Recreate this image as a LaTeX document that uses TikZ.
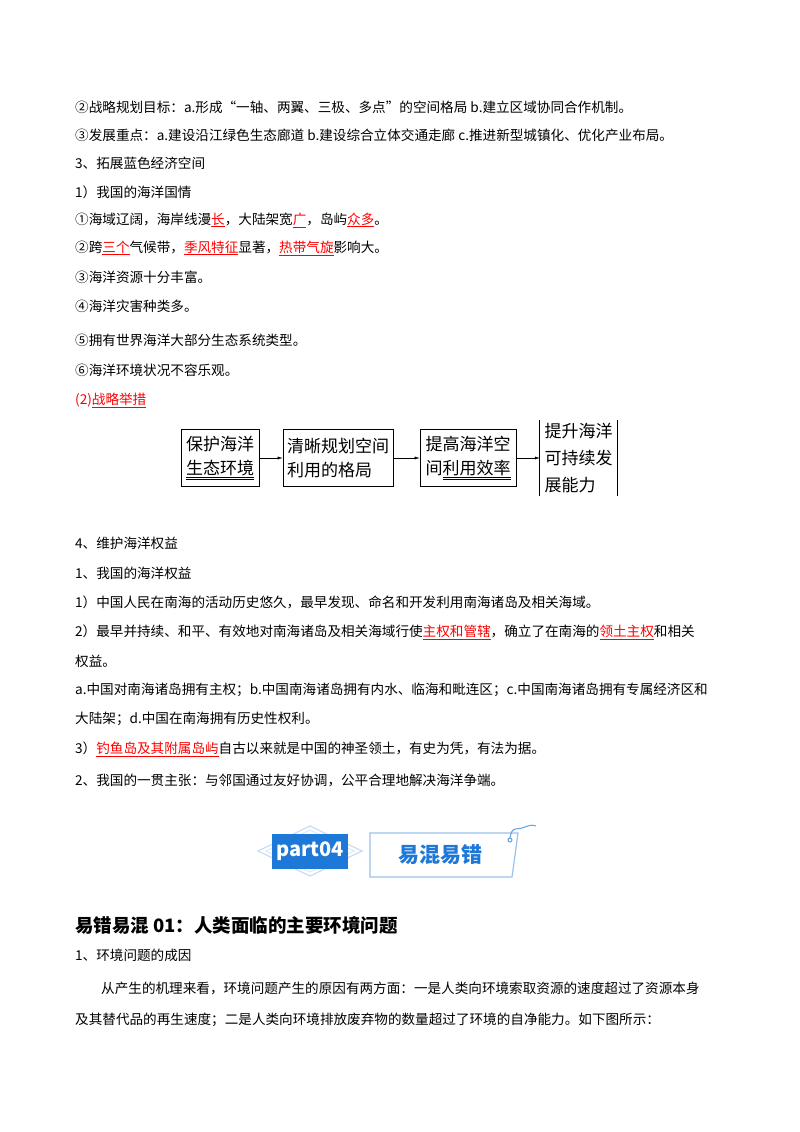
\documentclass[tikz,border=0pt]{standalone}
\usepackage{fontspec}
\setmainfont{Noto Sans CJK SC}
\usetikzlibrary{arrows.meta,shapes.geometric}
\definecolor{pblue}{RGB}{30,120,215}
\newcommand{\hl}[1]{\textcolor{red}{\underline{#1}}}
\newcommand{\uul}[1]{$\underline{\underline{\hbox{#1}}}$}
\begin{document}
\begin{tikzpicture}[x=1pt,y=-1pt,
  tl/.style={anchor=west,inner sep=0pt,font=\fontsize{13.6}{16}\selectfont},
  fbox/.style={draw,thick,inner sep=0pt,font=\fontsize{17}{24}\selectfont,align=left},
  arr/.style={-{Latex[length=5pt,width=3pt]}}]
\useasboundingbox (0,0) rectangle (800,1132);
\fill[white] (0,0) rectangle (800,1132);
\node[tl] (l1) at (75,107) {②战略规划目标：a.形成“一轴、两翼、三极、多点”的空间格局 b.建立区域协同合作机制。};
\node[tl] (l2) at (75,135) {③发展重点：a.建设沿江绿色生态廊道 b.建设综合立体交通走廊 c.推进新型城镇化、优化产业布局。};
\node[tl] (l3) at (75,163) {3、拓展蓝色经济空间};
\node[tl] (l4) at (75,192) {1）我国的海洋国情};
\node[tl] (l5) at (75,220) {①海域辽阔，海岸线漫\hl{长}，大陆架宽\hl{广}，岛屿\hl{众多}。};
\node[tl] (l6) at (75,248) {②跨\hl{三个}气候带，\hl{季风特征}显著，\hl{热带气旋}影响大。};
\node[tl] (l7) at (75,277) {③海洋资源十分丰富。};
\node[tl] (l8) at (75,306) {④海洋灾害种类多。};
\node[tl] (l9) at (75,340) {⑤拥有世界海洋大部分生态系统类型。};
\node[tl] (l10) at (75,370) {⑥海洋环境状况不容乐观。};
\node[tl] (l11) at (75,400) {\textcolor{red}{(2)}\hl{战略举措}};
% flowchart
\node[fbox,minimum width=78,minimum height=57] (b1) at (220,458) {保护海洋\\\uul{生态环境}};
\node[fbox,minimum width=110,minimum height=57] (b2) at (338,458) {清晰规划空间\\利用的格局};
\node[fbox,minimum width=96,minimum height=57] (b3) at (468,458) {提高海洋空\\间\uul{利用效率}};
\node[inner sep=0pt,font=\fontsize{17}{27}\selectfont,align=left,minimum width=77,minimum height=75] (b4) at (578.5,458) {提升海洋\\可持续发\\展能力};
\draw[thick] (b4.north west) -- (b4.south west);
\draw[thick] (b4.north east) -- (b4.south east);
\draw[arr] (b1) -- (b2);
\draw[arr] (b2) -- (b3);
\draw[arr] (b3) -- (b4);
\node[tl] (m1) at (75,543) {4、维护海洋权益};
\node[tl] (m2) at (75,573) {1、我国的海洋权益};
\node[tl] (m3) at (75,602) {1）中国人民在南海的活动历史悠久，最早发现、命名和开发利用南海诸岛及相关海域。};
\node[tl] (m4) at (75,632) {2）最早并持续、和平、有效地对南海诸岛及相关海域行使\hl{主权和管辖}，确立了在南海的\hl{领土主权}和相关};
\node[tl] (m5) at (75,661) {权益。};
\node[tl] (m6) at (75,690) {a.中国对南海诸岛拥有主权；b.中国南海诸岛拥有内水、临海和毗连区；c.中国南海诸岛拥有专属经济区和};
\node[tl] (m7) at (75,719) {大陆架；d.中国在南海拥有历史性权利。};
\node[tl] (m8) at (75,749) {3）\hl{钓鱼岛及其附属岛屿}自古以来就是中国的神圣领土，有史为凭，有法为据。};
\node[tl] (m9) at (75,780) {2、我国的一贯主张：与邻国通过友好协调，公平合理地解决海洋争端。};
% banner
\draw[pblue!25,line width=1.2pt] (258,851) -- (310,826) -- (362,851) -- (310,876) -- cycle;
\draw[pblue!15,line width=1pt] (266,851) -- (310,830) -- (354,851) -- (310,872) -- cycle;
\node[fill=pblue,text=white,minimum width=76,minimum height=35,inner sep=0pt,font=\fontsize{20}{20}\selectfont\bfseries] (p4) at (310,851) {part04};
\draw[pblue!45,line width=1.2pt] (370,833) -- (518,833) -- (512,877) -- (370,877) -- cycle;
\node[text=pblue,font=\fontsize{21}{21}\selectfont\bfseries] (yh) at (440,855) {易混易错};
\draw[pblue!70,line width=1pt] (510,840) circle (2);
\draw[pblue!70,line width=1pt] (510,838) .. controls (512,826) and (515,830) .. (522,828) .. controls (528,826) and (532,824) .. (536,826);
\node[tl,font=\fontsize{18.5}{22}\selectfont\bfseries] (h1) at (75,925) {易错易混 01：人类面临的主要环境问题};
\node[tl] (n1) at (75,955) {1、环境问题的成因};
\node[tl] (n2) at (101,988) {从产生的机理来看，环境问题产生的原因有两方面：一是人类向环境索取资源的速度超过了资源本身};
\node[tl] (n3) at (75,1020) {及其替代品的再生速度；二是人类向环境排放废弃物的数量超过了环境的自净能力。如下图所示：};
\end{tikzpicture}
\end{document}
